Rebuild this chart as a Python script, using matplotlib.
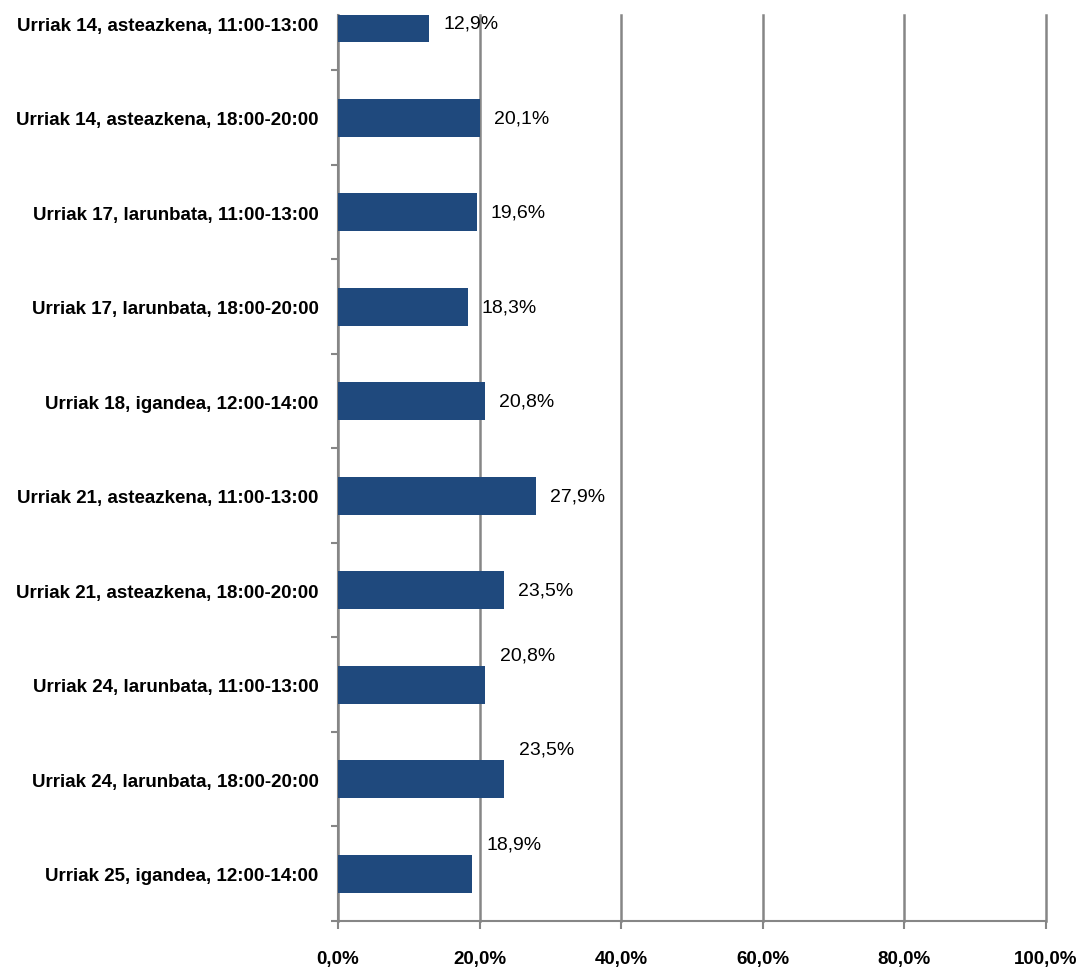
import matplotlib.pyplot as plt
from matplotlib.ticker import FixedLocator, FuncFormatter

categories = [
    "Urriak 14, asteazkena, 11:00-13:00",
    "Urriak 14, asteazkena, 18:00-20:00",
    "Urriak 17, larunbata, 11:00-13:00",
    "Urriak 17, larunbata, 18:00-20:00",
    "Urriak 18, igandea, 12:00-14:00",
    "Urriak 21, asteazkena, 11:00-13:00",
    "Urriak 21, asteazkena, 18:00-20:00",
    "Urriak 24, larunbata, 11:00-13:00",
    "Urriak 24, larunbata, 18:00-20:00",
    "Urriak 25, igandea, 12:00-14:00",
]
values = [12.9, 20.1, 19.6, 18.3, 20.8, 27.9, 23.5, 20.8, 23.5, 18.9]
x_ticks = [0, 20, 40, 60, 80, 100]

# the last three labels sit above their bars in the original
raised_labels = {7, 8, 9}

BAR_COLOR = "#1F497D"
GRID_COLOR = "#868686"
FONT = "Liberation Sans"

fig = plt.figure(figsize=(10.8, 9.7), dpi=100)
ax = fig.add_axes([338 / 1080, 48 / 970, (1046 - 338) / 1080, (922 - 16) / 970])

n = len(categories)
ypos = [n - 1 - i for i in range(n)]
ax.barh(ypos, values, height=0.40, color=BAR_COLOR, zorder=3)

ax.set_xlim(0, 100)
ax.set_ylim(-0.5, n - 1 + 0.087)

ax.xaxis.set_major_locator(FixedLocator(x_ticks))
ax.xaxis.set_major_formatter(FuncFormatter(lambda v, p: f"{v:.1f}%".replace(".", ",")))
ax.grid(axis="x", color=GRID_COLOR, linewidth=1.8, zorder=1)
for gl in ax.get_xgridlines():
    gl.set_clip_on(False)
ax.tick_params(axis="x", length=6, width=1.5, color=GRID_COLOR, pad=15)

ax.set_yticks(ypos)
ax.set_yticklabels(categories)
ax.set_yticks([k + 0.5 for k in range(-1, n - 1)], minor=True)
ax.tick_params(axis="y", which="major", length=0, pad=14)
ax.tick_params(axis="y", which="minor", length=5, width=1.5, color=GRID_COLOR)

for lab in ax.get_xticklabels() + ax.get_yticklabels():
    lab.set_fontfamily(FONT)
    lab.set_fontweight("bold")
    lab.set_fontsize(13.5)

for side in ("top", "right"):
    ax.spines[side].set_visible(False)
for side in ("left", "bottom"):
    ax.spines[side].set_color(GRID_COLOR)
    ax.spines[side].set_linewidth(1.5)

for i, v in enumerate(values):
    text = f"{v:.1f}%".replace(".", ",")
    if i in raised_labels:
        ax.annotate(text, (v, ypos[i]), xytext=(15, 30), textcoords="offset pixels",
                    ha="left", va="center", fontsize=14, family=FONT)
    else:
        ax.annotate(text, (v, ypos[i]), xytext=(14, 0), textcoords="offset pixels",
                    ha="left", va="center", fontsize=14, family=FONT)

fig.savefig("out.png", dpi=100)
